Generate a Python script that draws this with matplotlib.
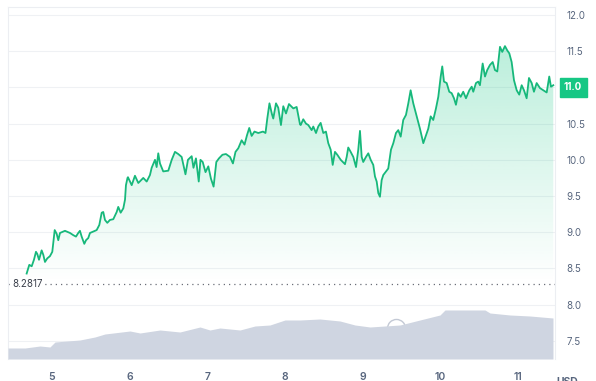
import numpy as np
import matplotlib.pyplot as plt
import matplotlib.transforms as mtransforms

# price (USD) vs day of month
days = [4.674, 4.708, 4.739, 4.768, 4.794, 4.811, 4.833, 4.867, 4.888, 4.910,
        4.940, 4.974, 5.004, 5.035, 5.060, 5.081, 5.103, 5.167, 5.232, 5.274,
        5.309, 5.338, 5.360, 5.382, 5.416, 5.438, 5.467, 5.489, 5.532, 5.575,
        5.609, 5.640, 5.660, 5.682, 5.712, 5.746, 5.789, 5.833, 5.853, 5.884,
        5.918, 5.940, 5.952, 5.972, 5.978, 6.026, 6.068, 6.111, 6.175, 6.219,
        6.261, 6.283, 6.326, 6.347, 6.368, 6.390, 6.432, 6.497, 6.541, 6.583,
        6.625, 6.669, 6.718, 6.750, 6.798, 6.821, 6.853, 6.889, 6.911, 6.940,
        6.976, 7.012, 7.046, 7.080, 7.115, 7.149, 7.194, 7.239, 7.291, 7.329,
        7.362, 7.398, 7.441, 7.478, 7.510, 7.539, 7.570, 7.606, 7.655, 7.716,
        7.748, 7.771, 7.799, 7.831, 7.848, 7.883, 7.912, 7.947, 7.977, 8.012,
        8.050, 8.106, 8.149, 8.192, 8.201, 8.234, 8.269, 8.299, 8.342, 8.363,
        8.398, 8.427, 8.458, 8.492, 8.526, 8.556, 8.587, 8.613, 8.642, 8.672,
        8.716, 8.771, 8.793, 8.813, 8.844, 8.878, 8.913, 8.942, 8.964, 8.986,
        9.006, 9.041, 9.071, 9.102, 9.135, 9.157, 9.179, 9.200, 9.221, 9.243,
        9.264, 9.299, 9.328, 9.363, 9.393, 9.427, 9.457, 9.488, 9.521, 9.556,
        9.586, 9.616, 9.650, 9.694, 9.736, 9.779, 9.843, 9.874, 9.907, 9.942,
        9.972, 10.003, 10.023, 10.045, 10.080, 10.113, 10.144, 10.174, 10.199, 10.229,
        10.260, 10.293, 10.328, 10.371, 10.402, 10.422, 10.457, 10.486, 10.508, 10.543,
        10.573, 10.602, 10.637, 10.672, 10.701, 10.731, 10.766, 10.795, 10.830, 10.860,
        10.886, 10.916, 10.946, 10.981, 11.014, 11.045, 11.075, 11.109, 11.139, 11.174,
        11.203, 11.238, 11.281, 11.323, 11.367, 11.400, 11.422, 11.452]
prices = [8.43, 8.55, 8.53, 8.62, 8.73, 8.70, 8.62, 8.75, 8.69, 8.59,
          8.64, 8.67, 8.73, 9.03, 8.98, 8.89, 8.99, 9.02, 8.99, 8.96,
          8.94, 8.99, 9.02, 8.94, 8.84, 8.89, 8.92, 8.99, 9.01, 9.03,
          9.10, 9.27, 9.28, 9.17, 9.13, 9.17, 9.18, 9.28, 9.35, 9.27,
          9.33, 9.45, 9.65, 9.75, 9.76, 9.65, 9.78, 9.68, 9.75, 9.70,
          9.79, 9.89, 10.00, 9.90, 10.09, 9.95, 9.84, 9.85, 10.00, 10.11,
          10.08, 10.04, 9.80, 10.00, 10.05, 9.89, 10.02, 9.70, 10.00, 9.97,
          9.83, 9.91, 9.74, 9.63, 9.97, 10.02, 10.07, 10.08, 10.04, 9.95,
          10.11, 10.16, 10.27, 10.21, 10.34, 10.44, 10.33, 10.39, 10.37, 10.39,
          10.37, 10.57, 10.78, 10.63, 10.57, 10.78, 10.72, 10.48, 10.74, 10.64,
          10.77, 10.71, 10.73, 10.49, 10.48, 10.56, 10.50, 10.48, 10.41, 10.46,
          10.37, 10.46, 10.51, 10.37, 10.39, 10.23, 10.14, 9.93, 10.11, 10.07,
          10.00, 9.94, 10.04, 10.17, 10.11, 10.04, 9.90, 10.14, 10.40, 10.04,
          9.97, 10.04, 10.09, 10.00, 9.93, 9.77, 9.70, 9.54, 9.49, 9.72,
          9.79, 9.84, 9.88, 10.14, 10.23, 10.37, 10.41, 10.32, 10.55, 10.62,
          10.78, 10.96, 10.78, 10.60, 10.43, 10.23, 10.43, 10.60, 10.55, 10.71,
          10.87, 11.15, 11.29, 11.08, 11.06, 10.94, 10.92, 10.85, 10.76, 10.92,
          10.87, 10.94, 10.85, 10.96, 11.01, 10.94, 11.06, 11.08, 11.03, 11.33,
          11.15, 11.24, 11.31, 11.35, 11.24, 11.22, 11.56, 11.49, 11.57, 11.51,
          11.47, 11.35, 11.10, 10.96, 10.90, 11.03, 10.96, 10.85, 11.13, 11.06,
          10.94, 11.06, 10.99, 10.96, 10.93, 11.15, 11.01, 11.03]

# trading volume (arbitrary units)
vol_days = [4.434, 4.653, 4.846, 4.974, 5.039, 5.360, 5.553, 5.682, 6.004, 6.133,
            6.390, 6.647, 6.905, 7.033, 7.162, 7.420, 7.613, 7.806, 7.999, 8.192,
            8.449, 8.707, 8.900, 9.093, 9.286, 9.479, 9.736, 9.994, 10.058, 10.380,
            10.573, 10.637, 10.895, 11.152, 11.448]
volume = [11, 11, 13, 12, 17, 19, 22, 25, 28, 26,
          29, 27, 32, 29, 31, 29, 33, 34, 39, 39,
          40, 38, 34, 32, 33, 34, 39, 44, 49, 49,
          49, 46, 44, 43, 41]

prev_close = 8.2817
last_price = 11.0
xticks = [5, 6, 7, 8, 9, 10, 11]
yticks = [7.5, 8.0, 8.5, 9.0, 9.5, 10.0, 10.5, 11.0, 11.5, 12.0]

green = '#16c784'
grey_txt = '#58667e'
plt.rcParams['font.family'] = ['Inter', 'DejaVu Sans']

fig = plt.figure(figsize=(5.96, 3.81), dpi=100)
ax = fig.add_axes([8/596, 22/381, 547/596, 352/381])
xmin, xmax = 4.434, 11.474
ymin, ymax = 7.25, 12.11
ax.set_xlim(xmin, xmax)
ax.set_ylim(ymin, ymax)

# gradient fill under the price line
poly = ax.fill_between(days, prices, ymin, color='none', lw=0)
ys = np.linspace(ymin, ymax, 300)
alpha = 0.30 * np.clip((ys - 8.3) / (11.7 - 8.3), 0, 1)
grad = np.zeros((300, 1, 4))
grad[:, 0, :3] = np.array([22, 199, 132]) / 255
grad[:, 0, 3] = alpha
im = ax.imshow(grad, extent=[xmin, xmax, ymin, ymax], origin='lower',
               aspect='auto', zorder=1)
im.set_clip_path(poly.get_paths()[0], transform=ax.transData)

ax.plot(days, prices, color='#17b87b', lw=1.3, zorder=3)

# previous close dotted line
ax.axhline(prev_close, color='#6b6f78', lw=0.9, ls=(0, (1, 3.2)), zorder=2)
ax.text(xmin + 0.05, prev_close, '8.2817', fontsize=7, color='#3a3f4a',
        va='center', ha='left', zorder=4,
        bbox=dict(boxstyle='square,pad=0.2', fc='white', ec='none'))

# volume area on a twin axis
ax2 = ax.twinx()
ax2.set_ylim(0, 352)
ax2.set_xlim(xmin, xmax)
ax2.plot([9.43], [31], marker='o', ms=13, mfc='white', mec='#c3c9d5',
         mew=1, zorder=1)
ax2.fill_between(vol_days, volume, 0, color='#cfd5e1', lw=0, zorder=2)
ax2.set_yticks([])
for side in ax2.spines:
    ax2.spines[side].set_visible(False)

ax.set_yticks(yticks)
# the 11.0 label sits under the price tag
ax.set_yticklabels(['' if v == last_price else f'{v:.1f}' for v in yticks])
ax.set_xticks(xticks)
ax.set_xticklabels([str(v) for v in xticks])
ax.yaxis.tick_right()
ax.yaxis.set_label_position('right')
ax.tick_params(axis='y', length=0, pad=8, labelsize=7, labelcolor=grey_txt)
ax.tick_params(axis='x', length=0, pad=9, labelsize=7.5, labelcolor=grey_txt)
for lab in ax.get_xticklabels():
    lab.set_fontweight('semibold')
ax.grid(axis='y', color='#eff1f4', lw=0.8)
ax.set_axisbelow(True)
for side in ['left', 'top', 'right']:
    ax.spines[side].set_color('#eceef2')
    ax.spines[side].set_linewidth(0.8)
ax.spines['bottom'].set_visible(False)

# current price tag
ax2.text(1.0 + 9/547, last_price, f'{last_price:.1f}',
         transform=mtransforms.blended_transform_factory(ax2.transAxes, ax.transData),
         fontsize=7, color='white', fontweight='bold', va='center', ha='left',
         zorder=5, clip_on=False,
         bbox=dict(boxstyle='square,pad=0.45', fc=green, ec=green))

fig.text(567/596, 1 - 377/381, 'USD', fontsize=7.5, color=grey_txt,
         fontweight='bold', ha='center', va='top')

fig.savefig('out.png', dpi=100)
